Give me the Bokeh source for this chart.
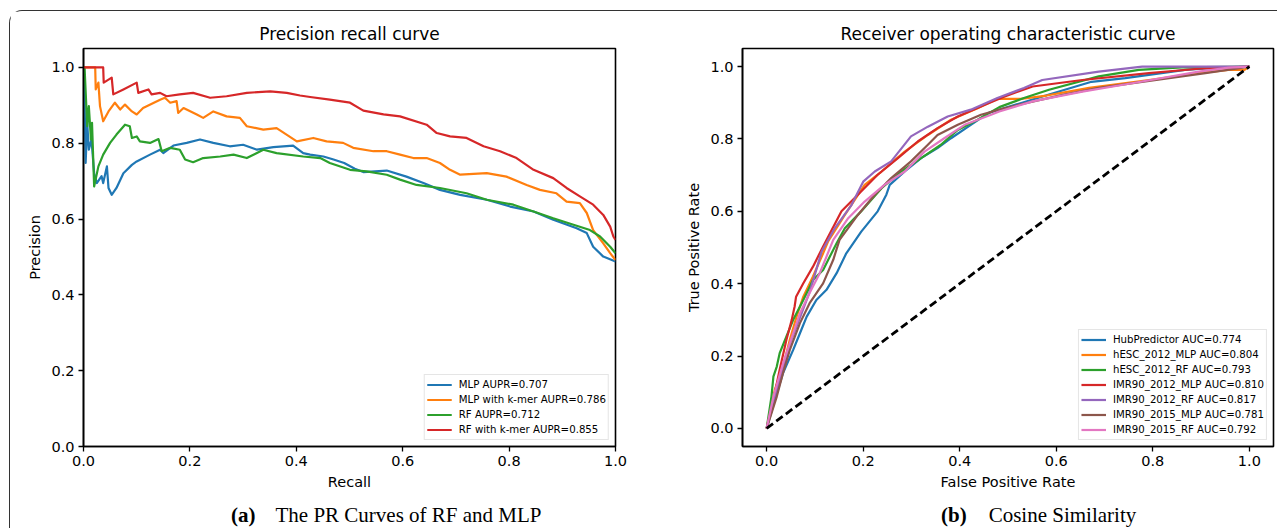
from bokeh.plotting import figure
from bokeh.models import (Range1d, FixedTicker, NumeralTickFormatter, Legend, LegendItem,
                          Row, Column, Div)
from bokeh.embed import file_html
from bokeh.resources import INLINE

# ---------------- data: Precision-recall curves ----------------
pr_mlp_recall = [0, 0.001, 0.004, 0.007, 0.010, 0.015, 0.02, 0.025, 0.034, 0.037, 0.044, 0.047, 0.053,
                 0.062, 0.075, 0.091, 0.1, 0.125, 0.144, 0.15, 0.169, 0.194, 0.219, 0.244, 0.275, 0.3,
                 0.326, 0.357, 0.394, 0.413, 0.426, 0.451, 0.47, 0.49, 0.51, 0.526, 0.57, 0.607, 0.639,
                 0.67, 0.708, 0.758, 0.802, 0.846, 0.883, 0.927, 0.946, 0.958, 0.977, 1.0]
pr_mlp_precision = [1.0, 1.0, 0.748, 0.854, 0.783, 0.81, 0.721, 0.695, 0.713, 0.695, 0.739, 0.682, 0.664,
                    0.682, 0.721, 0.743, 0.752, 0.77, 0.783, 0.774, 0.794, 0.801, 0.81, 0.801, 0.792, 0.796,
                    0.783, 0.79, 0.794, 0.774, 0.77, 0.765, 0.757, 0.748, 0.733, 0.724, 0.728, 0.712, 0.695,
                    0.677, 0.664, 0.651, 0.633, 0.62, 0.598, 0.576, 0.563, 0.527, 0.501, 0.488]

pr_mlpk_recall = [0, 0.022, 0.023, 0.028, 0.031, 0.037, 0.047, 0.059, 0.069, 0.078, 0.091, 0.1, 0.112,
                  0.144, 0.153, 0.163, 0.175, 0.178, 0.188, 0.213, 0.225, 0.244, 0.269, 0.294, 0.307,
                  0.338, 0.363, 0.401, 0.432, 0.457, 0.488, 0.507, 0.545, 0.57, 0.595, 0.62, 0.645, 0.67,
                  0.689, 0.708, 0.758, 0.795, 0.833, 0.858, 0.889, 0.908, 0.933, 0.946, 0.958, 0.977,
                  0.99, 1.0]
pr_mlpk_precision = [1.0, 1.0, 0.942, 0.96, 0.898, 0.858, 0.884, 0.907, 0.889, 0.902, 0.884, 0.876, 0.893,
                     0.915, 0.92, 0.907, 0.911, 0.88, 0.893, 0.876, 0.867, 0.884, 0.871, 0.867, 0.845,
                     0.836, 0.84, 0.805, 0.814, 0.805, 0.801, 0.788, 0.779, 0.779, 0.77, 0.761, 0.761, 0.748,
                     0.73, 0.717, 0.721, 0.712, 0.69, 0.677, 0.668, 0.646, 0.642, 0.616, 0.571, 0.536,
                     0.51, 0.492]

pr_rf_recall = [0, 0.002, 0.007, 0.010, 0.014, 0.016, 0.02, 0.028, 0.037, 0.05, 0.062, 0.078, 0.087,
                0.091, 0.1, 0.106, 0.125, 0.141, 0.147, 0.163, 0.181, 0.191, 0.206, 0.225, 0.257, 0.282,
                0.307, 0.338, 0.363, 0.413, 0.445, 0.463, 0.501, 0.532, 0.57, 0.595, 0.626, 0.67, 0.72,
                0.758, 0.808, 0.846, 0.883, 0.921, 0.952, 0.971, 0.99, 1.0]
pr_rf_precision = [1.0, 1.0, 0.845, 0.898, 0.81, 0.854, 0.686, 0.739, 0.77, 0.801, 0.823, 0.849, 0.845,
                   0.814, 0.818, 0.805, 0.801, 0.811, 0.779, 0.788, 0.783, 0.757, 0.75, 0.761, 0.765, 0.77,
                   0.761, 0.783, 0.774, 0.765, 0.761, 0.748, 0.73, 0.726, 0.717, 0.704, 0.69, 0.682, 0.668,
                   0.651, 0.638, 0.62, 0.602, 0.585, 0.571, 0.554, 0.527, 0.51]

pr_rfk_recall = [0, 0.037, 0.038, 0.053, 0.056, 0.075, 0.1, 0.103, 0.122, 0.128, 0.144, 0.156, 0.181,
                 0.206, 0.238, 0.269, 0.307, 0.351, 0.382, 0.407, 0.426, 0.463, 0.501, 0.526, 0.564,
                 0.595, 0.645, 0.664, 0.689, 0.72, 0.752, 0.783, 0.814, 0.846, 0.883, 0.908, 0.933,
                 0.958, 0.977, 0.99, 0.996, 1.0]
pr_rfk_precision = [1.0, 1.0, 0.96, 0.973, 0.929, 0.942, 0.96, 0.933, 0.942, 0.929, 0.933, 0.924, 0.929,
                    0.933, 0.92, 0.924, 0.933, 0.937, 0.933, 0.926, 0.922, 0.915, 0.907, 0.886, 0.876,
                    0.871, 0.849, 0.827, 0.818, 0.814, 0.792, 0.779, 0.761, 0.73, 0.708, 0.682, 0.66,
                    0.638, 0.611, 0.58, 0.554, 0.545]

pr_labels = ["MLP AUPR=0.707", "MLP with k-mer AUPR=0.786", "RF AUPR=0.712", "RF with k-mer AUPR=0.855"]

# ---------------- data: ROC curves ----------------
roc_hub_fpr = [0, 0.017, 0.034, 0.055, 0.069, 0.083, 0.103, 0.124, 0.145, 0.165, 0.196, 0.23, 0.248, 0.255,
               0.286, 0.32, 0.354, 0.382, 0.423, 0.46, 0.585, 0.673, 0.743, 0.867, 0.93, 1.0]
roc_hub_tpr = [0, 0.079, 0.153, 0.217, 0.263, 0.309, 0.355, 0.383, 0.429, 0.484, 0.544, 0.6, 0.646, 0.673,
               0.71, 0.747, 0.775, 0.802, 0.839, 0.872, 0.923, 0.958, 0.968, 0.991, 0.997, 1.0]

roc_hmlp_fpr = [0, 0.017, 0.034, 0.048, 0.062, 0.076, 0.096, 0.117, 0.127, 0.162, 0.203, 0.238, 0.286,
                0.334, 0.382, 0.437, 0.478, 0.527, 0.58, 0.668, 0.792, 0.895, 0.957, 0.99, 1.0]
roc_hmlp_tpr = [0, 0.107, 0.171, 0.245, 0.309, 0.364, 0.42, 0.484, 0.516, 0.59, 0.673, 0.71, 0.765,
                0.811, 0.853, 0.885, 0.911, 0.911, 0.92, 0.941, 0.963, 0.982, 0.991, 0.991, 1.0]

roc_hrf_fpr = [0, 0.01, 0.014, 0.021, 0.027, 0.041, 0.055, 0.076, 0.096, 0.117, 0.131, 0.145, 0.162, 0.196,
               0.238, 0.279, 0.32, 0.361, 0.396, 0.437, 0.482, 0.533, 0.585, 0.688, 0.771, 0.86, 1.0]
roc_hrf_tpr = [0, 0.088, 0.143, 0.171, 0.208, 0.254, 0.3, 0.355, 0.41, 0.438, 0.475, 0.512, 0.553, 0.6,
               0.664, 0.71, 0.747, 0.784, 0.825, 0.853, 0.888, 0.913, 0.936, 0.973, 0.991, 0.998, 1.0]

roc_i12mlp_fpr = [0, 0.014, 0.027, 0.041, 0.052, 0.058, 0.061, 0.076, 0.096, 0.117, 0.155, 0.189, 0.23,
                  0.272, 0.313, 0.354, 0.396, 0.451, 0.492, 0.551, 0.654, 0.792, 0.895, 1.0]
roc_i12mlp_tpr = [0, 0.079, 0.162, 0.245, 0.3, 0.337, 0.364, 0.401, 0.447, 0.503, 0.6, 0.646, 0.701,
                  0.747, 0.793, 0.83, 0.862, 0.894, 0.917, 0.945, 0.963, 0.982, 0.994, 1.0]

roc_i12rf_fpr = [0, 0.014, 0.03, 0.05, 0.07, 0.09, 0.114, 0.141, 0.176, 0.2, 0.224, 0.258, 0.299, 0.334,
                 0.375, 0.423, 0.478, 0.533, 0.571, 0.688, 0.778, 1.0]
roc_i12rf_tpr = [0, 0.075, 0.15, 0.24, 0.31, 0.38, 0.489, 0.553, 0.618, 0.682, 0.71, 0.738, 0.807, 0.834,
                 0.862, 0.881, 0.913, 0.941, 0.963, 0.986, 1.0, 1.0]

roc_i15mlp_fpr = [0, 0.021, 0.034, 0.048, 0.069, 0.089, 0.117, 0.138, 0.151, 0.189, 0.224, 0.258, 0.299,
                  0.334, 0.354, 0.396, 0.444, 0.492, 0.613, 0.688, 0.785, 0.909, 1.0]
roc_i15mlp_tpr = [0, 0.088, 0.153, 0.217, 0.291, 0.346, 0.401, 0.466, 0.521, 0.59, 0.646, 0.692, 0.738,
                  0.784, 0.811, 0.839, 0.867, 0.885, 0.922, 0.941, 0.959, 0.982, 1.0]

roc_i15rf_fpr = [0, 0.014, 0.034, 0.055, 0.069, 0.089, 0.11, 0.124, 0.138, 0.169, 0.203, 0.244, 0.286,
                 0.327, 0.368, 0.41, 0.465, 0.482, 0.551, 0.654, 0.757, 0.895, 0.957, 1.0]
roc_i15rf_tpr = [0, 0.088, 0.18, 0.263, 0.318, 0.374, 0.429, 0.475, 0.521, 0.581, 0.627, 0.673, 0.71,
                 0.765, 0.802, 0.839, 0.867, 0.876, 0.904, 0.931, 0.954, 0.986, 0.997, 1.0]

roc_labels = ["HubPredictor AUC=0.774", "hESC_2012_MLP AUC=0.804", "hESC_2012_RF AUC=0.793",
              "IMR90_2012_MLP AUC=0.810", "IMR90_2012_RF AUC=0.817", "IMR90_2015_MLP AUC=0.781",
              "IMR90_2015_RF AUC=0.792"]
diag_x = [0, 1]
diag_y = [0, 1]

ticks = [0.0, 0.2, 0.4, 0.6, 0.8, 1.0]
captions_a = ["(a)", "The PR Curves of RF and MLP"]
captions_b = ["(b)", "Cosine Similarity"]

COLORS = ["#1f77b4", "#ff7f0e", "#2ca02c", "#d62728", "#9467bd", "#8c564b", "#e377c2"]
SANS = "DejaVu Sans"
SERIF = "Liberation Serif"


def style(p, xlabel, ylabel, title):
    p.title.text = title
    p.title.align = "center"
    p.title.text_font = SANS
    p.title.text_font_size = "17px"
    p.title.text_font_style = "normal"
    p.title.text_color = "black"
    p.title.standoff = 10
    p.outline_line_color = "black"
    p.outline_line_width = 1.6
    p.xgrid.visible = False
    p.ygrid.visible = False
    p.background_fill_color = "white"
    p.border_fill_color = "white"
    for ax, lab in ((p.xaxis[0], xlabel), (p.yaxis[0], ylabel)):
        ax.ticker = FixedTicker(ticks=ticks)
        ax.formatter = NumeralTickFormatter(format="0.0")
        ax.axis_label = lab
        ax.axis_label_text_font = SANS
        ax.axis_label_text_font_size = "14.5px"
        ax.axis_label_text_font_style = "normal"
        ax.axis_label_text_color = "black"
        ax.axis_label_standoff = 5
        ax.major_label_text_font = SANS
        ax.major_label_text_font_size = "14.5px"
        ax.major_label_text_color = "black"
        ax.major_label_standoff = 4
        ax.major_tick_in = 0
        ax.major_tick_out = 5
        ax.major_tick_line_width = 1.3
        ax.major_tick_line_color = "black"
        ax.minor_tick_line_color = None
        ax.axis_line_color = "black"
        ax.axis_line_width = 1.6


def make_legend(items, pad):
    return Legend(items=items, location="bottom_right", margin=6, padding=pad, spacing=0,
                  glyph_width=25, glyph_height=15, label_height=15, label_standoff=7,
                  label_text_font=SANS, label_text_font_size="10.2px", label_text_color="black",
                  border_line_color="#cccccc", border_line_width=1,
                  background_fill_color="white", background_fill_alpha=0.85)


def caption(parts, left, gap, width):
    html = ('<div style="white-space:nowrap; padding-top:2px; line-height:24px; '
            'font-family:\'Liberation Serif\', serif; font-size:21px; color:black; '
            'padding-left:%dpx"><b>%s</b><span style="padding-left:%dpx">%s</span></div>'
            % (left, parts[0], gap, parts[1]))
    return Div(text=html, width=width, height=27, margin=0)


# ---------------- left: PR ----------------
p1 = figure(width=630, height=490, x_range=Range1d(0, 1), y_range=Range1d(0, 1.05),
            output_backend="svg", toolbar_location=None,
            min_border_left=73, min_border_right=25, min_border_top=37, min_border_bottom=55)
style(p1, "Recall", "Precision", "Precision recall curve")
pr_series = [(pr_mlp_recall, pr_mlp_precision), (pr_mlpk_recall, pr_mlpk_precision),
             (pr_rf_recall, pr_rf_precision), (pr_rfk_recall, pr_rfk_precision)]
items1 = []
for i, (xs, ys) in enumerate(pr_series):
    r = p1.line(xs, ys, line_color=COLORS[i], line_width=2.2, line_join="round")
    items1.append(LegendItem(label=pr_labels[i], renderers=[r]))
p1.add_layout(make_legend(items1, 2), "center")

# ---------------- right: ROC ----------------
p2 = figure(width=637, height=490, x_range=Range1d(-0.05, 1.05), y_range=Range1d(-0.05, 1.05),
            output_backend="svg", toolbar_location=None,
            min_border_left=102, min_border_right=4, min_border_top=37, min_border_bottom=55)
style(p2, "False Positive Rate", "True Positive Rate", "Receiver operating characteristic curve")
roc_series = [(roc_hub_fpr, roc_hub_tpr), (roc_hmlp_fpr, roc_hmlp_tpr), (roc_hrf_fpr, roc_hrf_tpr),
              (roc_i12mlp_fpr, roc_i12mlp_tpr), (roc_i12rf_fpr, roc_i12rf_tpr),
              (roc_i15mlp_fpr, roc_i15mlp_tpr), (roc_i15rf_fpr, roc_i15rf_tpr)]
items2 = []
for i, (xs, ys) in enumerate(roc_series):
    r = p2.line(xs, ys, line_color=COLORS[i], line_width=2.2, line_join="round")
    items2.append(LegendItem(label=roc_labels[i], renderers=[r]))
p2.line(diag_x, diag_y, line_color="black", line_width=2.8, line_dash="8 4")
p2.add_layout(make_legend(items2, 2), "center")

cap_a = caption(captions_a, 221, 20, 630)
cap_b = caption(captions_b, 301, 22, 637)

layout = Column(children=[Row(children=[p1, p2]), Row(children=[cap_a, cap_b])],
                margin=(10, 0, 0, 9),
                styles={"border-top": "1.5px solid #333", "border-left": "1.5px solid #333",
                        "border-top-left-radius": "13px"})

open("out.html", "w").write(file_html(layout, INLINE))
